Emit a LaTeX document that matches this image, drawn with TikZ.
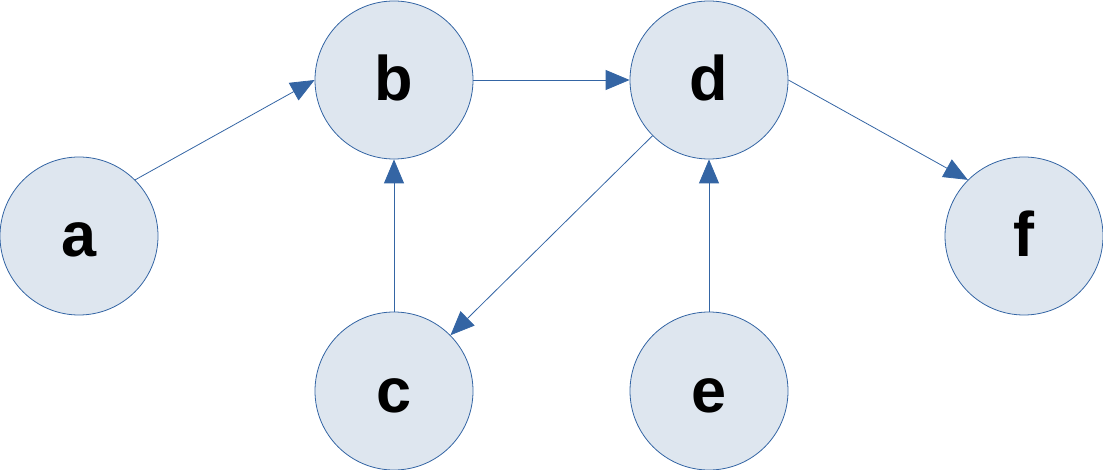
\documentclass[tikz,border=0pt]{standalone}
\usepackage{fontspec}
\setmainfont{Liberation Sans}
\usetikzlibrary{arrows.meta}
\definecolor{nodefill}{HTML}{DEE6EF}
\definecolor{nodeline}{HTML}{3465A4}
\begin{document}
\begin{tikzpicture}[x=1pt,y=-1pt,
  vert/.style={circle,draw=nodeline,fill=nodefill,line width=0.8pt,minimum size=158pt,inner sep=0pt,text height=42pt,text depth=0pt,font=\fontsize{63}{63}\selectfont\bfseries},
  edge/.style={draw=nodeline,line width=0.8pt,-{Triangle[length=24pt,width=20pt]}}]
\useasboundingbox (0,0) rectangle (1103,470);
\node[vert] (a) at (79,236) {a};
\node[vert] (b) at (394,80) {b};
\node[vert] (c) at (394,391) {c};
\node[vert] (d) at (709,80) {d};
\node[vert] (e) at (709,391) {e};
\node[vert] (f) at (1024,236) {f};
\draw[edge] (a.45) -- (b.west);
\draw[edge] (b) -- (d);
\draw[edge] (c) -- (b);
\draw[edge] (d) -- (c);
\draw[edge] (e) -- (d);
\draw[edge] (d.east) -- (f.135);
\end{tikzpicture}
\end{document}
